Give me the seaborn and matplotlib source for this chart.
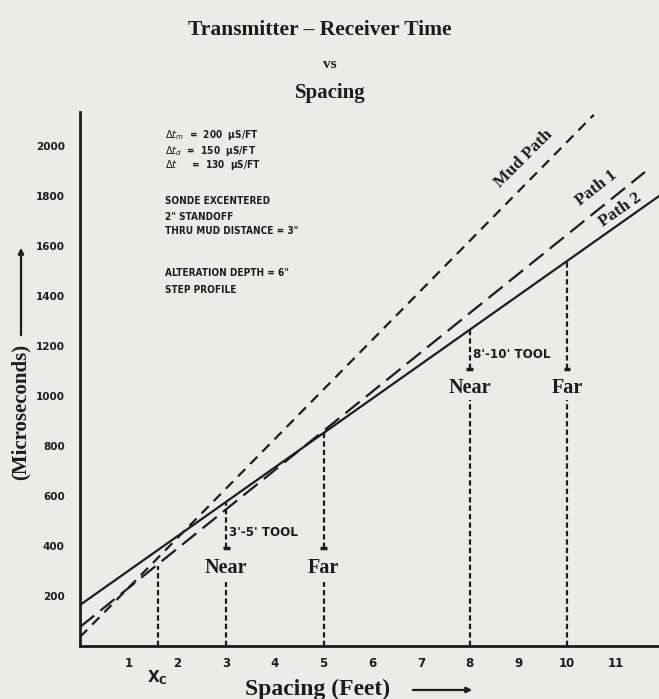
import numpy as np
import matplotlib
matplotlib.use("Agg")
import matplotlib.pyplot as plt
import seaborn as sns

# --- values ---
mud_ft = [0, 10.55]
mud_us = [36, 2125]
path1_ft = [0, 11.6]
path1_us = [76, 1896]
path2_ft = [0, 11.95]
path2_us = [164, 1808]

tool_ft = [3, 5, 8, 10]
tool_top_us = [576, 851, 1264, 1539]   # where the receiver line meets Path 2
tool_names = ["Near", "Far", "Near", "Far"]
xc_ft = 1.6
xc_top_us = 320

x_ticks = [1, 2, 3, 4, 5, 6, 7, 8, 9, 10, 11]
y_ticks = [200, 400, 600, 800, 1000, 1200, 1400, 1600, 1800, 2000]

notes = ["$\\Delta t_m$  =  200  \u03bcS/FT", "$\\Delta t_d$  =  150  \u03bcS/FT", "$\\Delta t$     =  130  \u03bcS/FT",
         "SONDE EXCENTERED", "2\" STANDOFF", "THRU MUD DISTANCE = 3\"",
         "ALTERATION DEPTH = 6\"", "STEP PROFILE"]

W, H = 659, 699
PAPER = "#ebebea"
INK = "#1c1c1c"

sns.set_theme(style="white")
plt.rcParams["font.family"] = ["DejaVu Sans"]

fig = plt.figure(figsize=(W / 100, H / 100), dpi=100, facecolor=PAPER)
ax = fig.add_axes([80 / W, 53 / H, (W - 80) / W, (646 - 112) / H])
ax.set_facecolor(PAPER)
ax.set_xlim(0, (W - 80) / 48.7)
ax.set_ylim(0, (646 - 112) * 4)

for s in ["top", "right"]:
    ax.spines[s].set_visible(False)
for s in ["left", "bottom"]:
    ax.spines[s].set_color(INK)
    ax.spines[s].set_linewidth(2)

# main lines
sns.lineplot(x=mud_ft, y=mud_us, ax=ax, color=INK, linewidth=1.6)
ax.lines[-1].set_linestyle((0, (4.6, 3.2)))
sns.lineplot(x=path1_ft, y=path1_us, ax=ax, color=INK, linewidth=1.6)
ax.lines[-1].set_linestyle((0, (8.2, 3.6)))
sns.lineplot(x=path2_ft, y=path2_us, ax=ax, color=INK, linewidth=1.6)

vdash = (0, (2.4, 1.4))
# Xc marker
ax.plot([xc_ft, xc_ft], [0, xc_top_us], color=INK, lw=1.6, ls=vdash)

serif = dict(family="Liberation Serif", fontweight="bold", color=INK)

# tool receiver markers
groups = [(0, 1, 256, 392, 312, "3'-5' TOOL", 456), (2, 3, 984, 1108, 1032, "8'-10' TOOL", 1168)]
for i0, i1, low, bar, txt_y, label, lab_y in groups:
    for i in (i0, i1):
        x = tool_ft[i]
        ax.plot([x, x], [0, low], color=INK, lw=1.6, ls=vdash)
        ax.plot([x, x], [bar, tool_top_us[i]], color=INK, lw=1.6, ls=vdash)
        ax.plot([x - 0.07, x + 0.07], [bar, bar], color=INK, lw=2.5, solid_capstyle="butt")
        ax.text(x, txt_y, tool_names[i], ha="center", va="center", fontsize=14.5, **serif)
    ax.text(tool_ft[i0] + 0.06, lab_y, label, ha="left", va="center", fontsize=9.5,
            fontweight="bold", color=INK, fontstretch="condensed")

# line labels
ax.text(9.1, 1950, "Mud Path", rotation=45, ha="center", va="center", fontsize=12.5, **serif)
ax.text(10.6, 1830, "Path 1", rotation=38, ha="center", va="center", fontsize=12.5, **serif)
ax.text(11.1, 1745, "Path 2", rotation=35, ha="center", va="center", fontsize=12.5, **serif)

# ticks
ax.set_xticks(x_ticks)
ax.set_xticklabels([str(v) for v in x_ticks], fontsize=8.5, fontweight="bold", color=INK)
ax.set_yticks(y_ticks)
ax.set_yticklabels([str(v) for v in y_ticks], fontsize=7.5, fontweight="bold", color=INK)
ax.tick_params(axis="x", direction="out", length=4, width=1.5, color=INK, pad=4)
ax.tick_params(axis="y", direction="out", length=0, pad=11)
ax.text(xc_ft, -90, "X$_\\mathregular{C}$", ha="center", va="top", fontsize=11,
        fontweight="bold", color=INK)

# notes block
note_y = [135, 151, 165, 201, 217, 231, 273, 290]
for txt, py in zip(notes, note_y):
    fig.text(165 / W, 1 - py / H, txt, ha="left", va="center", fontsize=7.2,
             fontweight="bold", color=INK, fontstretch="condensed")

# titles
fig.text(320 / W, 1 - 30 / H, "Transmitter \u2013 Receiver Time", fontsize=15.5,
         ha="center", va="center", **serif)
fig.text(330 / W, 1 - 65 / H, "vs", fontsize=11, ha="center", va="center", **serif)
fig.text(330 / W, 1 - 93 / H, "Spacing", fontsize=15, ha="center", va="center", **serif)

# axis labels with arrows
fig.text(318 / W, 1 - 689 / H, "Spacing (Feet)", fontsize=17, ha="center", va="center", **serif)
fig.add_artist(matplotlib.patches.FancyArrowPatch((410 / W, 1 - 690 / H), (475 / W, 1 - 690 / H),
               transform=fig.transFigure, arrowstyle="-|>", mutation_scale=8, lw=1.6, color=INK))
fig.text(21 / W, 1 - 412 / H, "(Microseconds)", fontsize=15, rotation=90,
         ha="center", va="center", **serif)
fig.add_artist(matplotlib.patches.FancyArrowPatch((21 / W, 1 - 338 / H), (21 / W, 1 - 245 / H),
               transform=fig.transFigure, arrowstyle="-|>", mutation_scale=8, lw=1.6, color=INK))

fig.savefig("out.png", dpi=100, facecolor=PAPER)
